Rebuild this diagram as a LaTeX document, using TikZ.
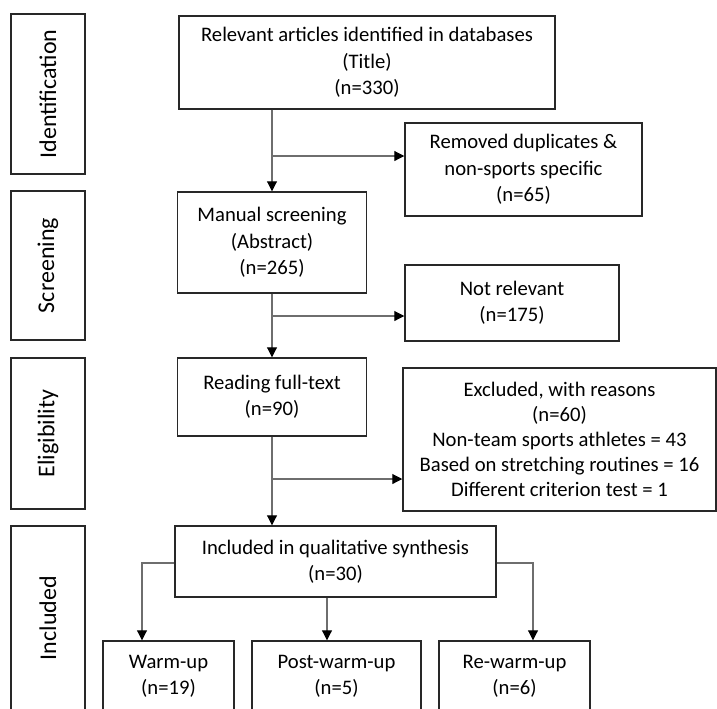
\documentclass[tikz,border=0pt]{standalone}
\usepackage{fontspec}
\setmainfont{Carlito}
\usetikzlibrary{arrows.meta,positioning,calc}
\definecolor{boxline}{RGB}{40,40,40}
\definecolor{linkgray}{RGB}{110,110,110}
\tikzset{
  stage/.style={draw=boxline, line width=1.1pt, rotate=90, inner sep=0pt, minimum height=55.5pt, font=\fontsize{18}{22}\selectfont},
  flowbox/.style={draw=boxline, line width=1.1pt, inner sep=0pt, align=center, font=\fontsize{15.5}{19.8}\selectfont},
  link/.style={draw=linkgray, line width=0.8pt, -{Triangle[length=7.5pt, width=7.5pt, color=black]}},
  branch/.style={draw=linkgray, line width=0.8pt},
}
\begin{document}
\begin{tikzpicture}[x=0.75pt, y=-0.75pt]
  \useasboundingbox (0,0) rectangle (717,708);
  \clip (0,0) rectangle (717,708);

  \node[stage, minimum width=120pt] (ident) at (48,94) {Identification};
  \node[stage, minimum width=111.75pt] (screen) at (48,265.5) {Screening};
  \node[stage, minimum width=113.25pt] (elig) at (48,433.5) {Eligibility};
  \node[stage, minimum width=138pt] (incl) at (48,618) {Included};

  \node[flowbox, minimum width=282pt, minimum height=69.75pt] (titles) at (367,62.5)
    {Relevant articles identified in databases\\(Title)\\(n=330)};
  \node[flowbox, minimum width=177.75pt, minimum height=69.75pt] (dup) at (523.5,169.5)
    {Removed duplicates \&\\non-sports specific\\(n=65)};
  \node[flowbox, minimum width=141.75pt, minimum height=75.75pt] (abstract) at (272,242.5)
    {Manual screening\\(Abstract)\\(n=265)};
  \node[flowbox, minimum width=160.5pt, minimum height=57pt] (notrel) at (512,303)
    {Not relevant\\(n=175)};
  \node[flowbox, minimum width=141.75pt, minimum height=58.5pt] (fulltext) at (272,397)
    {Reading full-text\\(n=90)};
  \node[flowbox, minimum width=234.75pt, minimum height=107.25pt, font=\fontsize{15.5}{18.75}\selectfont] (excl) at (559.5,439.5)
    {Excluded, with reasons\\(n=60)\\Non-team sports athletes = 43\\Based on stretching routines = 16\\Different criterion test = 1};
  \node[flowbox, minimum width=240.75pt, minimum height=53.25pt] (synth) at (335.5,561.5)
    {Included in qualitative synthesis\\(n=30)};
  \node[flowbox, minimum width=98.25pt, minimum height=53.25pt] (warm) at (168.5,676.5)
    {Warm-up\\(n=19)};
  \node[flowbox, minimum width=126.75pt, minimum height=53.25pt] (post) at (336.5,676.5)
    {Post-warm-up\\(n=5)};
  \node[flowbox, minimum width=113.25pt, minimum height=53.25pt] (rewarm) at (514.5,676.5)
    {Re-warm-up\\(n=6)};

  \coordinate (b1) at (272,156);
  \coordinate (b2) at (272,316);
  \coordinate (b3) at (272,479);
  \coordinate (lt) at (142,563);
  \coordinate (rt) at (533,563);
  \coordinate (mid) at (327,600);

  \draw[link] (titles.south -| abstract.north) -- (abstract.north);
  \draw[link] (b1) -- (b1 -| dup.west);
  \draw[link] (abstract) -- (fulltext);
  \draw[link] (b2) -- (b2 -| notrel.west);
  \draw[link] (fulltext.south) -- (fulltext.south |- synth.north);
  \draw[link] (b3) -- (b3 -| excl.west);
  \draw[link] (lt -| synth.west) -| (lt |- warm.north);
  \draw[link] (mid |- synth.south) -- (mid |- post.north);
  \draw[link] (rt -| synth.east) -| (rt |- rewarm.north);
\end{tikzpicture}
\end{document}
